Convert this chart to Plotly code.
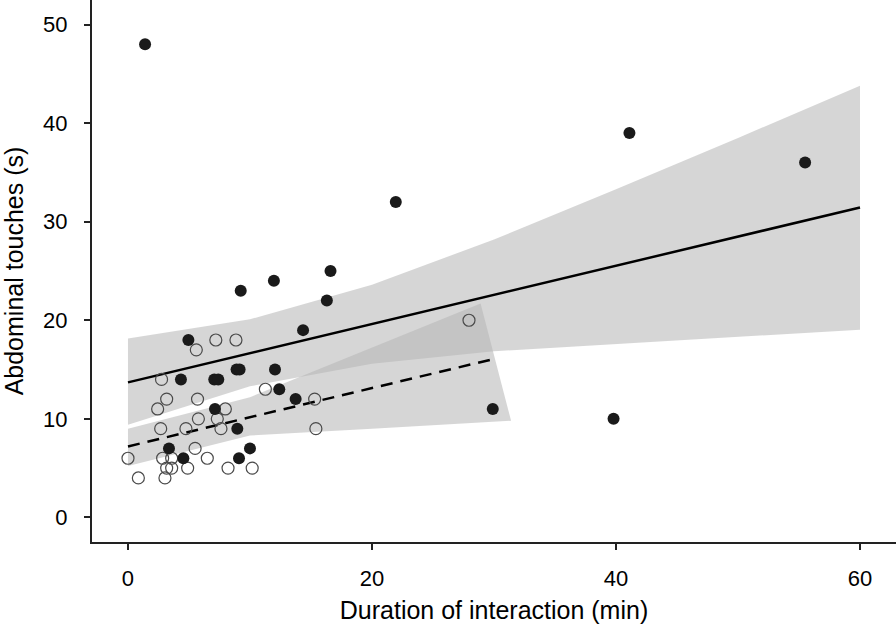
import plotly.graph_objects as go

# ---- data ----
# Filled (black) points
filled_x = [1.4, 41.1, 55.5, 21.95, 16.6, 11.96, 9.24, 16.3, 14.35, 4.95,
            8.9, 9.15, 12.05, 4.34, 7.07, 7.4, 12.4, 13.74, 7.13, 29.9,
            39.8, 8.96, 3.36, 10.0, 4.54, 9.1]
filled_y = [48, 39, 36, 32, 25, 24, 23, 22, 19, 18,
            15, 15, 15, 14, 14, 14, 13, 12, 11, 11,
            10, 9, 7, 7, 6, 6]

# Open points
open_x = [27.95, 7.2, 8.85, 5.6, 2.75, 11.26, 3.17, 5.7, 15.3, 2.43,
          7.98, 5.77, 7.32, 2.68, 4.75, 7.62, 15.4, 5.5, 0.0, 2.84,
          3.58, 6.5, 3.17, 3.58, 4.89, 8.2, 10.18, 0.85, 3.03]
open_y = [20, 18, 18, 17, 14, 13, 12, 12, 12, 11,
          11, 10, 10, 9, 9, 9, 9, 7, 6, 6,
          6, 6, 5, 5, 5, 5, 5, 4, 4]

# Fitted lines
solid_x = [0, 60]
solid_y = [13.7, 31.45]
dashed_x = [0, 30.07]
dashed_y = [7.2, 16.1]

# Confidence bands
solid_ci_x = [0, 10, 20, 30, 40, 50, 60]
solid_ci_upper = [18.15, 20.1, 23.6, 28.2, 33.3, 38.5, 43.8]
solid_ci_lower_x = [0, 10, 20, 30, 60]
solid_ci_lower = [9.4, 13.3, 15.6, 16.85, 19.05]

dashed_ci_upper_x = [0, 10, 28.9]
dashed_ci_upper = [9.0, 12.2, 21.7]
dashed_ci_lower_x = [0, 10, 20, 31.4]
dashed_ci_lower = [5.2, 8.3, 9.0, 9.8]

x_ticks = [0, 20, 40, 60]
y_ticks = [0, 10, 20, 30, 40, 50]

band_fill = "rgba(182,182,182,0.56)"

fig = go.Figure()

# bands as closed polygons
fig.add_trace(go.Scatter(
    x=solid_ci_x + solid_ci_lower_x[::-1],
    y=solid_ci_upper + solid_ci_lower[::-1],
    fill="toself", fillcolor=band_fill, line=dict(width=0),
    mode="lines", hoverinfo="skip", showlegend=False))
fig.add_trace(go.Scatter(
    x=dashed_ci_upper_x + dashed_ci_lower_x[::-1],
    y=dashed_ci_upper + dashed_ci_lower[::-1],
    fill="toself", fillcolor=band_fill, line=dict(width=0),
    mode="lines", hoverinfo="skip", showlegend=False))

# fitted lines
fig.add_trace(go.Scatter(x=solid_x, y=solid_y, mode="lines",
                         line=dict(color="#000000", width=2.5),
                         showlegend=False))
fig.add_trace(go.Scatter(x=dashed_x, y=dashed_y, mode="lines",
                         line=dict(color="#000000", width=2.5, dash="12px,8px"),
                         showlegend=False))

# points
fig.add_trace(go.Scatter(x=open_x, y=open_y, mode="markers",
                         marker=dict(symbol="circle-open", size=12,
                                     color="#4a4a4a", line=dict(width=1.2)),
                         showlegend=False))
fig.add_trace(go.Scatter(x=filled_x, y=filled_y, mode="markers",
                         marker=dict(symbol="circle", size=12, color="#1a1a1a",
                                     line=dict(width=0)),
                         showlegend=False))

axis_font = dict(family="Liberation Sans, Arial, sans-serif", size=22, color="#000000")
title_font = dict(family="Liberation Sans, Arial, sans-serif", size=25, color="#000000")

fig.update_layout(
    width=896, height=626,
    margin=dict(l=92, r=0, t=0, b=84),
    paper_bgcolor="white", plot_bgcolor="white",
    xaxis=dict(
        range=[-2.95, 62.95], tickvals=x_ticks, ticks="outside", ticklen=6,
        tickwidth=2, tickcolor="#222222", showline=True, linewidth=2,
        linecolor="#222222", showgrid=False, zeroline=False,
        tickfont=axis_font, ticklabelstandoff=10,
        title=dict(text="Duration of interaction (min)", font=title_font, standoff=11),
    ),
    yaxis=dict(
        range=[-2.5, 52.5], tickvals=y_ticks, ticks="outside", ticklen=6,
        tickwidth=2, tickcolor="#222222", showline=True, linewidth=2,
        linecolor="#222222", showgrid=False, zeroline=False,
        tickfont=axis_font, ticklabelstandoff=12,
        title=dict(text="Abdominal touches (s)", font=title_font, standoff=16),
    ),
)

fig.write_html("out.html",
               config={"displayModeBar": False},
               post_script="document.body.style.margin='0';document.body.style.overflow='hidden';")
